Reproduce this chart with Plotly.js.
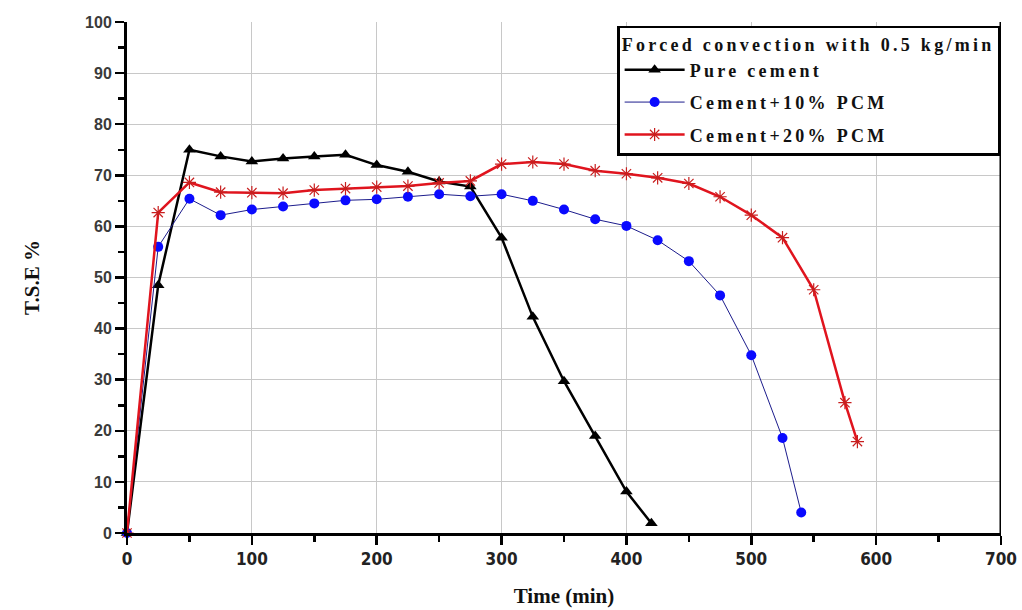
<!DOCTYPE html>
<html>
<head>
<meta charset="utf-8">
<script src="https://cdn.plot.ly/plotly-3.0.1.min.js"></script>
<style>
html,body{margin:0;padding:0;background:#fff;}
#chart{width:1022px;height:610px;}
text.legendtext, text.legendtitletext {letter-spacing:3.3px;}
</style>
</head>
<body>
<div id="chart"></div>
<script>
const pureTime = [0, 25, 50, 75, 100, 125, 150, 175, 200, 225, 250, 275, 300, 325, 350, 375, 400, 420];
const pureTSE  = [0, 48.5, 75.0, 73.7, 72.7, 73.3, 73.7, 74.0, 72.0, 70.7, 68.8, 67.8, 57.8, 42.3, 29.7, 19.0, 8.1, 1.9];

const pcm10Time = [0, 25, 50, 75, 100, 125, 150, 175, 200, 225, 250, 275, 300, 325, 350, 375, 400, 425, 450, 475, 500, 525, 540];
const pcm10TSE  = [0, 56.0, 65.4, 62.2, 63.3, 63.9, 64.5, 65.1, 65.3, 65.8, 66.3, 65.9, 66.3, 65.0, 63.3, 61.4, 60.1, 57.3, 53.2, 46.5, 34.8, 18.6, 4.0];

const pcm20Time = [0, 25, 50, 75, 100, 125, 150, 175, 200, 225, 250, 275, 300, 325, 350, 375, 400, 425, 450, 475, 500, 525, 550, 575, 585];
const pcm20TSE  = [0, 62.7, 68.6, 66.7, 66.6, 66.5, 67.1, 67.4, 67.7, 67.9, 68.5, 68.9, 72.2, 72.6, 72.2, 70.9, 70.3, 69.5, 68.4, 65.8, 62.2, 57.8, 47.6, 25.5, 17.9];

const seriesNames = ['Pure cement', 'Cement+10% PCM', 'Cement+20% PCM'];
const legendTitle = 'Forced convection with 0.5 kg/min';
const xTitle = 'Time (min)';
const yTitle = 'T.S.E %';

const traces = [
  {x: pureTime, y: pureTSE, name: '<b>' + seriesNames[0] + '</b>', legendgroup: 'g1', mode: 'lines+markers', cliponaxis: false,
   line: {color: '#000000', width: 2.5},
   marker: {symbol: 'triangle-up', size: 11, color: '#000000'}},
  {x: pcm10Time, y: pcm10TSE, name: '<b>' + seriesNames[1] + '</b>', legendgroup: 'g2', mode: 'lines+markers', cliponaxis: false,
   line: {color: '#1c1c8c', width: 1},
   marker: {symbol: 'circle', size: 10, color: '#0a0aff'}},
  {x: pcm20Time, y: pcm20TSE, name: '<b>' + seriesNames[2] + '</b>', legendgroup: 'g3', mode: 'lines+markers', cliponaxis: false,
   line: {color: '#e0141e', width: 2.5},
   marker: {symbol: 'asterisk-open', size: 11, color: '#c81e1e', line: {color: '#c81e1e', width: 1.2}}}
];

const layout = {
  width: 1022, height: 610,
  margin: {l: 127, r: 21, t: 22, b: 77},
  paper_bgcolor: '#ffffff', plot_bgcolor: '#ffffff',
  showlegend: true,
  legend: {
    x: 0.999, y: 0.993, xanchor: 'right', yanchor: 'top',
    bgcolor: '#ffffff', bordercolor: '#000000', borderwidth: 2.5,
    font: {family: 'Liberation Serif, Times New Roman, serif', size: 18, color: '#111'},
    title: {text: '<b>' + legendTitle + '</b>', font: {family: 'Liberation Serif, Times New Roman, serif', size: 18, color: '#111'}},
    tracegroupgap: 6, itemwidth: 60
  },
  xaxis: {
    range: [0, 700], dtick: 100, tick0: 0,
    showgrid: true, gridcolor: '#c8c8c8', gridwidth: 1,
    showline: true, linecolor: '#000', linewidth: 3,
    ticks: 'outside', ticklen: 9, tickwidth: 2.5, tickcolor: '#000',
    minor: {dtick: 50, ticks: 'outside', ticklen: 6, tickwidth: 2.5, tickcolor: '#000', showgrid: false},
    tickfont: {family: 'DejaVu Sans Condensed, Liberation Sans Narrow, sans-serif', size: 17, color: '#222', weight: 'bold'},
    zeroline: false,
    title: {text: '<b>' + xTitle + '</b>', font: {family: 'Liberation Serif, Times New Roman, serif', size: 21, color: '#111'}, standoff: 20}
  },
  yaxis: {
    range: [0, 100], dtick: 10, tick0: 0,
    showgrid: true, gridcolor: '#c8c8c8', gridwidth: 1,
    showline: true, linecolor: '#000', linewidth: 3,
    ticks: 'outside', ticklen: 9, tickwidth: 2.5, tickcolor: '#000',
    minor: {dtick: 5, ticks: 'outside', ticklen: 6, tickwidth: 2.5, tickcolor: '#000', showgrid: false},
    tickfont: {family: 'Liberation Sans, Arial, sans-serif', size: 16, color: '#3a3a3a', weight: 'bold'},
    zeroline: false,
    title: {text: '<b>' + yTitle + '</b>', font: {family: 'Liberation Serif, Times New Roman, serif', size: 21, color: '#111'}, standoff: 40}
  },
  shapes: [
    {type: 'line', xref: 'x', yref: 'paper', x0: 700, x1: 700, y0: 0, y1: 1, line: {color: '#000', width: 3}}
  ]
};

Plotly.newPlot('chart', traces, layout, {displayModeBar: false, staticPlot: true});
</script>
</body>
</html>
